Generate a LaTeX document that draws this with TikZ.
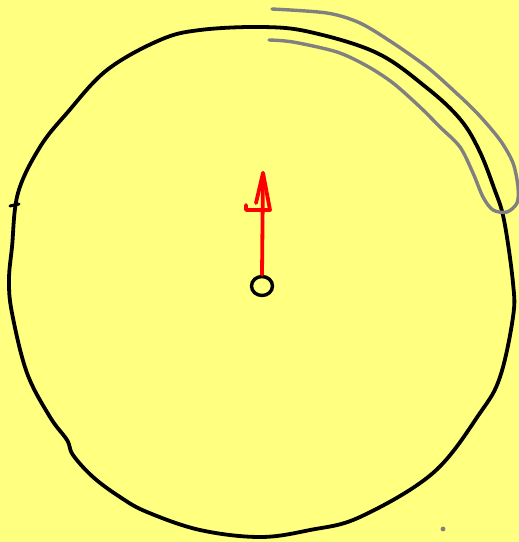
\documentclass[tikz,border=0pt]{standalone}
\usetikzlibrary{shapes.geometric}
\definecolor{bg}{RGB}{255,255,128}
\definecolor{pen}{RGB}{128,128,128}
\begin{document}
\begin{tikzpicture}[x=1pt,y=-1pt,
  ink/.style={line width=3.8pt,line cap=round,line join=round},
  rim/.style={ink,black},
  halo/.style={ink,pen,line width=3.4pt},
  arrowpen/.style={ink,red}]
\fill[bg] (0,0) rectangle (519,542);
\useasboundingbox (0,0) rectangle (519,542);
% big hand-drawn circle
\draw[rim] plot[smooth cycle,tension=0.6] coordinates {
 (262,27) (310,32) (377,53) (427,88) (460,119) (479,150) (494,188) (504,220)
 (513,283) (513,317) (500,377) (480,413) (433,473) (360,517) (310,530) (260,537)
 (200,530) (147,512) (120,497) (93,477) (73,455) (67,440) (50,417) (27,373)
 (12,313) (9,280) (12,247) (18,193) (40,147) (67,113) (107,70)
 (160,40) (200,30)};
% tick on left
\draw[rim,line width=3pt] (10,206) -- (19,204);
% gray outline band
\draw[halo] plot[smooth,tension=0.5] coordinates {
 (272,9) (327,13) (360,23) (393,43) (427,67) (453,90) (477,113) (500,140)
 (513,163) (518,187) (517,203) (507,212) (493,210) (483,197) (473,173)
 (460,147) (440,127) (420,107) (393,83) (367,66) (337,52) (293,42) (269,40)};
% gray dot
\fill[pen] (443,529) circle (2.4);
% small circle
\node[draw=black,line width=3.4pt,ellipse,minimum width=21pt,minimum height=19pt,inner sep=0pt] (hub) at (262,286) {};
% red arrow
\coordinate (tip) at (263,173);
\draw[arrowpen] (hub.north) -- (tip);
\draw[arrowpen] (256,203) -- (tip) -- (270,210) -- (246,210) -- (246,205);
\end{tikzpicture}
\end{document}
